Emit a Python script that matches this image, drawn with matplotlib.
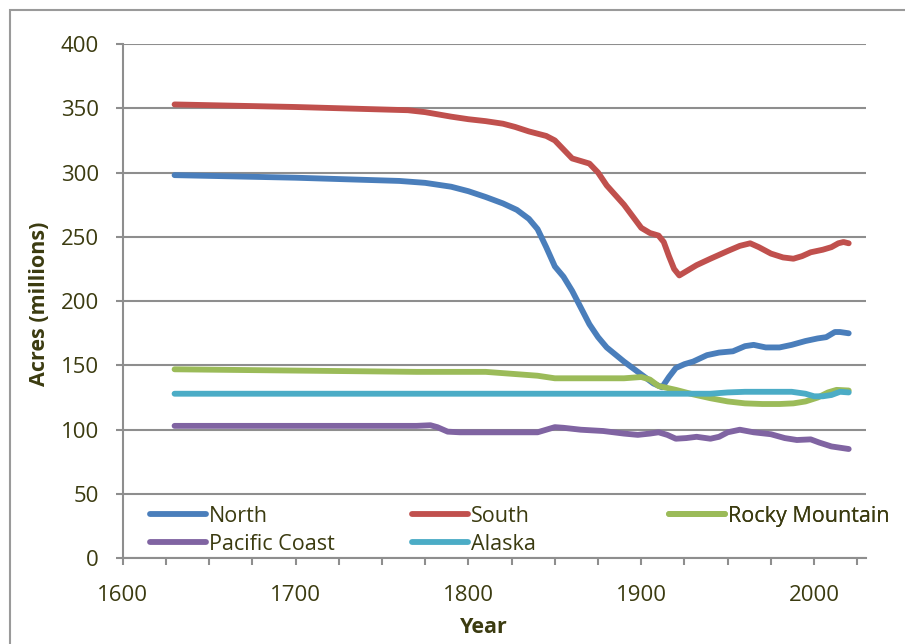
import matplotlib
matplotlib.use("Agg")
import matplotlib.pyplot as plt
from matplotlib.ticker import MultipleLocator
from matplotlib.patches import Rectangle

plt.rcParams['font.family'] = ['Open Sans', 'DejaVu Sans']

# ---- data (millions of acres) ----
north_years = [1630, 1700, 1760, 1775, 1790, 1800, 1810, 1820, 1828, 1835, 1840, 1845, 1850,
               1855, 1860, 1865, 1870, 1875, 1880, 1890, 1900, 1907, 1912, 1916, 1920, 1925,
               1930, 1938, 1945, 1953, 1960, 1965, 1972, 1980, 1987, 1995, 2002, 2007, 2012,
               2015, 2020]
north_vals = [298, 296, 293.5, 292, 289, 285.5, 281, 276, 271, 264, 256, 242, 227,
              219, 208, 195, 182, 172, 164, 153, 143, 136, 133, 141, 148, 151,
              153, 158, 160, 161, 165, 166, 164, 164, 166, 169, 171, 172, 176,
              176, 175]

south_years = [1630, 1700, 1765, 1775, 1790, 1800, 1810, 1820, 1827, 1835, 1845, 1850, 1855,
               1860, 1865, 1870, 1875, 1880, 1890, 1900, 1905, 1910, 1913, 1916, 1919, 1922,
               1927, 1932, 1940, 1950, 1957, 1963, 1968, 1975, 1982, 1988, 1993, 1998, 2005,
               2010, 2014, 2017, 2020]
south_vals = [353, 351, 348.5, 347, 343.5, 341.5, 340, 338, 335.5, 332, 328.5, 325, 318,
              311, 309, 307, 300, 290, 275, 257, 253, 251, 246, 235, 225, 220,
              224, 228, 233, 239, 243, 245, 242, 237, 234, 233, 235, 238, 240,
              242, 245, 246, 245]

rocky_years = [1630, 1700, 1770, 1810, 1820, 1830, 1840, 1850, 1870, 1890, 1900, 1905, 1910,
               1920, 1930, 1940, 1950, 1960, 1970, 1980, 1988, 1995, 2002, 2008, 2013, 2020]
rocky_vals = [147, 146, 145, 145, 144, 143, 142, 140, 140, 140, 141, 139, 134,
              131, 127.5, 124.5, 122, 120.5, 120, 120, 120.5, 122, 125, 129, 131, 130.5]

pacific_years = [1630, 1770, 1778, 1782, 1788, 1795, 1820, 1840, 1845, 1850, 1855, 1865, 1878,
                 1890, 1898, 1905, 1910, 1915, 1920, 1926, 1932, 1940, 1945, 1950, 1957, 1965,
                 1975, 1983, 1990, 1998, 2003, 2010, 2020]
pacific_vals = [103, 103, 103.5, 102, 98.5, 98, 98, 98, 100, 102, 101.5, 100, 99,
                97, 96, 97, 98, 96, 93, 93.5, 94.5, 93, 94.5, 98, 100, 98,
                96.5, 93.5, 92, 92.5, 90, 87, 85]

alaska_years = [1630, 1940, 1950, 1960, 1970, 1987, 1995, 2000, 2005, 2010, 2015, 2020]
alaska_vals = [128, 128, 129, 129.5, 129.5, 129.5, 128, 126, 126, 127, 129.5, 129]

series = [
    ("North", north_years, north_vals, "#4A7EBB"),
    ("South", south_years, south_vals, "#C0504D"),
    ("Rocky Mountain", rocky_years, rocky_vals, "#9BBB59"),
    ("Pacific Coast", pacific_years, pacific_vals, "#8064A2"),
    ("Alaska", alaska_years, alaska_vals, "#4BACC6"),
]

x_ticks = [1600, 1700, 1800, 1900, 2000]
y_ticks = [0, 50, 100, 150, 200, 250, 300, 350, 400]

W, H = 905, 644
fig = plt.figure(figsize=(W / 100, H / 100), dpi=100)
fig.patch.set_facecolor("white")
fig.patches.append(Rectangle((10 / W, -0.1), 1.2, 1.1 - 10 / H, transform=fig.transFigure,
                             fill=False, edgecolor="#9a9a9a", linewidth=1.5))

left, right, bottom, top = 122.7 / W, 866 / W, 1 - 558.3 / H, 1 - 44 / H
ax = fig.add_axes([left, bottom, right - left, top - bottom])

grid_c = "#8E8E8E"
text_c = "#3b3b10"

lines = {}
for name, xs, ys, c in series:
    ln, = ax.plot(xs, ys, color=c, lw=4.2, solid_capstyle="round", solid_joinstyle="round",
                  label=name, zorder=3)
    lines[name] = ln

ax.set_xlim(1600, 2030)
ax.set_ylim(0, 400)
ax.set_xticks(x_ticks)
ax.set_yticks(y_ticks)
ax.xaxis.set_minor_locator(MultipleLocator(25))
ax.yaxis.grid(True, color=grid_c, lw=1.5, zorder=1)
ax.set_axisbelow(True)
for s in ["top", "right"]:
    ax.spines[s].set_visible(False)
for s in ["left", "bottom"]:
    ax.spines[s].set_color(grid_c)
    ax.spines[s].set_linewidth(1.5)

ax.tick_params(axis="both", which="both", color=grid_c, width=1.5, length=5,
               labelcolor=text_c, labelsize=16)
ax.tick_params(axis="y", pad=12)
ax.tick_params(axis="x", pad=14)

ax.set_ylabel("Acres (millions)", fontsize=15.5, fontweight="bold", color=text_c)
ax.yaxis.set_label_coords(-0.098, 0.494)
ax.set_xlabel("Year", fontsize=15.5, fontweight="bold", color=text_c)
ax.xaxis.label.set_verticalalignment("center")
ax.xaxis.set_label_coords(0.486, -0.1355)

# legend: three columns positioned like the reference
cols = [(["North", "Pacific Coast"], 150),
        (["South", "Alaska"], 412),
        (["Rocky Mountain"], 669)]
for names, xpix in cols:
    leg = ax.legend([lines[n] for n in names], names, loc="upper left",
                    bbox_to_anchor=(xpix / W, 1 - 506 / H), bbox_transform=fig.transFigure,
                    frameon=False, fontsize=15.5, handlelength=2.6, handletextpad=0.15,
                    borderpad=0, borderaxespad=0, labelspacing=0.32, labelcolor=text_c)
    ax.add_artist(leg)

fig.savefig("out.png", dpi=100)
